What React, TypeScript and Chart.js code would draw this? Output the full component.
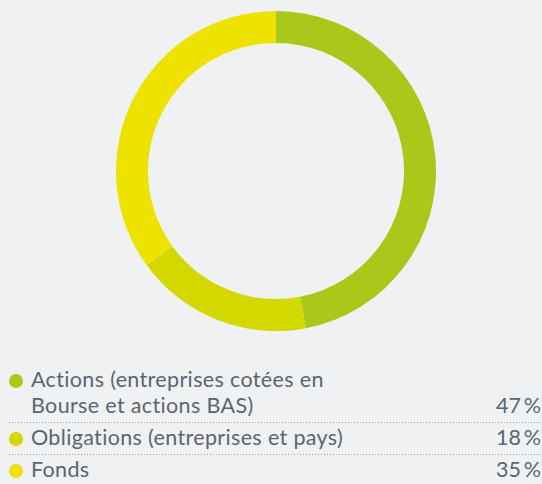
import React, { useEffect, useRef } from "react";
import { Chart, registerables } from "chart.js";

Chart.register(...registerables);

const labels = ["Actions (entreprises cotées en Bourse et actions BAS)", "Obligations (entreprises et pays)", "Fonds"];
const legendLines = [["Actions (entreprises cotées en", "Bourse et actions BAS)"], ["Obligations (entreprises et pays)"], ["Fonds"]];
const values = [47, 18, 35];
const colors = ["#a9c819", "#d3d800", "#eee300"];

const BG = "#f0f1f3";
const TEXT = "#5a666f";
const FONT = "Lato, 'Open Sans', sans-serif";

export default function App() {
  const ref = useRef<HTMLCanvasElement | null>(null);

  useEffect(() => {
    document.body.style.margin = "0";
    document.body.style.background = BG;
    const ctx = ref.current;
    if (!ctx) return;
    const chart = new Chart(ctx, {
      type: "doughnut",
      data: {
        labels,
        datasets: [
          {
            data: values,
            backgroundColor: colors,
            borderWidth: 0,
          },
        ],
      },
      options: {
        animation: false,
        responsive: false,
        maintainAspectRatio: false,
        cutout: "80%",
        plugins: { legend: { display: false }, tooltip: { enabled: false } },
      },
    });
    return () => chart.destroy();
  }, []);

  const dotted: React.CSSProperties = {
    position: "absolute",
    left: 9,
    right: 0,
    height: 1,
    backgroundImage: "repeating-linear-gradient(to right, #9ba3a9 0px, #9ba3a9 1px, transparent 1px, transparent 3px)",
  };

  const rowTops = [366, 424, 456];
  const dividerTops = [422, 454];

  return (
    <div style={{ position: "relative", width: 542, height: 484, background: BG, overflow: "hidden", fontFamily: FONT, color: TEXT }}>
      <div style={{ position: "absolute", left: 116, top: 11, width: 320, height: 320 }}>
        <canvas ref={ref} width={320} height={320} style={{ width: 320, height: 320 }} />
      </div>
      {legendLines.map((lines, i) => (
        <div key={i} style={{ position: "absolute", left: 0, right: 0, top: rowTops[i], fontSize: 21.5, lineHeight: "26px", letterSpacing: "0.35px", fontVariantLigatures: "none" }}>
          <div style={{ position: "absolute", left: 9, top: 8, width: 14, height: 14, borderRadius: 7, background: colors[i] }} />
          {lines.map((t, j) => (
            <div key={j} style={{ position: "absolute", left: 31, top: j * 26, whiteSpace: "nowrap" }}>{t}</div>
          ))}
          <div style={{ position: "absolute", right: 1, top: (lines.length - 1) * 26, whiteSpace: "nowrap", letterSpacing: 0 }}>
            {values[i]}{"\u2009"}%
          </div>
        </div>
      ))}
      {dividerTops.map((t, i) => (
        <div key={i} style={{ ...dotted, top: t }} />
      ))}
    </div>
  );
}
